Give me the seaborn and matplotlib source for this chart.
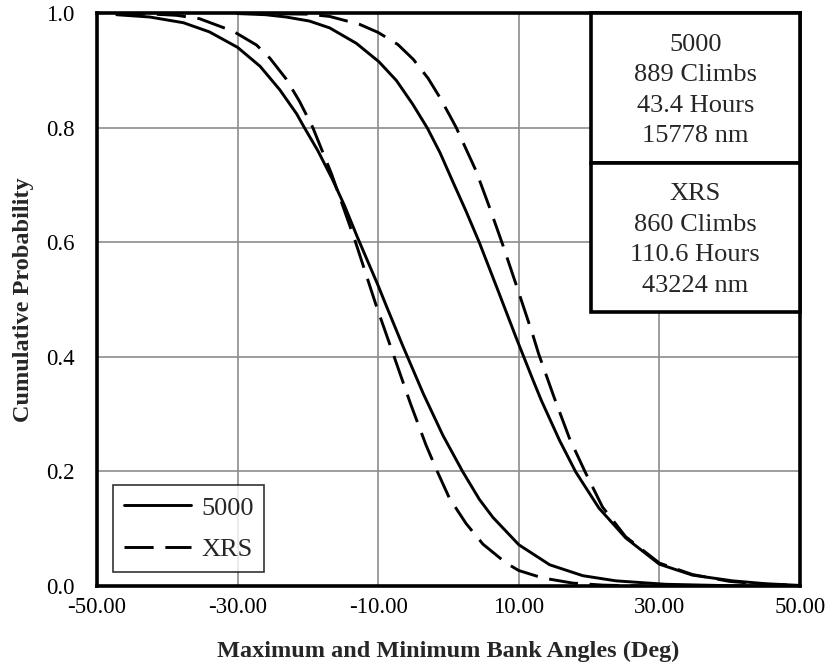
import numpy as np
import pandas as pd
import matplotlib
matplotlib.use("Agg")
import matplotlib.pyplot as plt
import seaborn as sns
from matplotlib.patches import Rectangle

# ---- data ----
s5000_min_x = [-47.2, -42.5, -37.7, -34.0, -30.0, -26.8, -24.0, -21.6, -20.6, -18.6, -16.6, -14.8, -13.0, -10.0, -8.85,
               -6.5, -3.6, -0.8, 2.0, 4.4, 6.3, 10.0, 14.4, 19.1, 23.8, 30.9, 40.0, 50.0]
s5000_min_p = [0.997, 0.993, 0.983, 0.967, 0.940, 0.907, 0.866, 0.824, 0.802, 0.760, 0.712, 0.664, 0.610, 0.524, 0.489,
               0.419, 0.336, 0.263, 0.200, 0.151, 0.120, 0.072, 0.037, 0.018, 0.009, 0.003, 0.0005, 0.0]

xrs_min_x = [-47.3, -42.0, -38.7, -35.4, -30.6, -27.3, -25.4, -23.1, -21.2, -19.3, -16.6, -13.3, -10.3, -7.7,
             -5.4, -3.2, -1.6, 0.14, 2.5, 4.9, 8.2, 10.0, 13.4, 17.7, 22.0, 28.0]
xrs_min_p = [0.9995, 0.998, 0.996, 0.990, 0.968, 0.944, 0.921, 0.885, 0.846, 0.800, 0.718, 0.603, 0.490, 0.399,
             0.318, 0.246, 0.200, 0.153, 0.109, 0.073, 0.040, 0.027, 0.014, 0.005, 0.0015, 0.0]

s5000_max_x = [-30.0, -26.0, -23.1, -19.8, -16.9, -13.1, -9.9, -7.4, -5.1, -3.0, -1.2, 0.6, 2.5, 4.4, 7.0, 9.6,
               12.0, 13.2, 15.8, 18.1, 21.4, 25.2, 30.0, 34.7, 40.4, 45.1, 50.0]
s5000_max_p = [0.999, 0.997, 0.993, 0.986, 0.974, 0.947, 0.915, 0.882, 0.841, 0.799, 0.756, 0.706, 0.654, 0.599, 0.517, 0.434,
               0.360, 0.324, 0.254, 0.199, 0.136, 0.084, 0.038, 0.019, 0.009, 0.004, 0.001]

xrs_max_x = [-30.0, -20.0, -16.9, -12.6, -10.0, -7.2, -5.0, -2.9, -1.3, 0.14, 1.1, 3.9, 5.8, 7.7, 10.0, 12.0,
             12.8, 15.0, 17.2, 19.4, 21.9, 25.2, 30.0, 34.7, 40.0, 45.0, 50.0]
xrs_max_p = [0.9995, 0.998, 0.994, 0.980, 0.966, 0.945, 0.919, 0.886, 0.854, 0.822, 0.800, 0.725, 0.662, 0.596, 0.512, 0.438,
             0.406, 0.330, 0.258, 0.200, 0.138, 0.086, 0.040, 0.020, 0.008, 0.003, 0.001]

series_names = ["5000", "XRS"]
x_ticks = [-50, -30, -10, 10, 30, 50]
x_tick_labels = ["-50.00", "-30.00", "-10.00", "10.00", "30.00", "50.00"]
y_ticks = [0.0, 0.2, 0.4, 0.6, 0.8, 1.0]
y_tick_labels = ["0.0", "0.2", "0.4", "0.6", "0.8", "1.0"]
box_texts = ["5000\n889 Climbs\n43.4 Hours\n15778 nm",
             "XRS\n860 Climbs\n110.6 Hours\n43224 nm"]

curves = [("5000", "min", s5000_min_x, s5000_min_p),
          ("XRS", "min", xrs_min_x, xrs_min_p),
          ("5000", "max", s5000_max_x, s5000_max_p),
          ("XRS", "max", xrs_max_x, xrs_max_p)]
rows = []
for name, kind, xs, ps in curves:
    for i, (xv, pv) in enumerate(zip(xs, ps)):
        rows.append({"series": name, "curve": name + kind, "x": xv, "p": pv, "order": i})
df = pd.DataFrame(rows)

sns.set_style("white")
plt.rcParams['font.family'] = ['Liberation Serif', 'DejaVu Serif']

fig = plt.figure(figsize=(8.31, 6.70), dpi=100)
ax = fig.add_axes([97/831, 1 - 586/670, 703/831, 573/670])

lw = 2.1
sns.lineplot(data=df, x="x", y="p", style="series", units="curve", estimator=None,
             sort=False, color="black", linewidth=lw,
             dashes={"5000": "", "XRS": (10, 4)}, style_order=series_names, ax=ax, legend=True)
for ln in ax.get_lines():
    ln.set_solid_joinstyle("round")
    ln.set_dash_joinstyle("round")
    ln.set_dash_capstyle("butt")

ax.set_xlim(-50, 50)
ax.set_ylim(0, 1)
ax.set_xticks(x_ticks)
ax.set_xticklabels(x_tick_labels)
ax.set_yticks(y_ticks)
ax.set_yticklabels(y_tick_labels)
ax.tick_params(axis="both", length=0, labelsize=16.5, colors="black")
ax.tick_params(axis="y", pad=16)
ax.tick_params(axis="x", pad=8)
ax.grid(True, color="#8c8c8c", linewidth=1.2)
for sp in ax.spines.values():
    sp.set_color("black")
    sp.set_linewidth(2.6)
    sp.set_zorder(5)

ax.set_xlabel("Maximum and Minimum Bank Angles (Deg)", fontsize=17.5, fontweight="bold", labelpad=16)
ax.set_ylabel("Cumulative Probability", fontsize=17.5, fontweight="bold", labelpad=9)

# text boxes
bx0 = 20.2
tops = [1.0, 0.738]
bots = [0.738, 0.478]
for t, b, txt in zip(tops, bots, box_texts):
    r = Rectangle((bx0, b), 50 - bx0, t - b, facecolor="white", edgecolor="black",
                  linewidth=2.6, zorder=6, clip_on=False)
    ax.add_patch(r)
    ax.text((bx0 + 50) / 2, (t + b) / 2 - 0.004, txt, ha="center", va="center", fontsize=19,
            linespacing=1.5, zorder=7)

handles, labels = ax.get_legend_handles_labels()
leg = ax.legend(handles, labels, loc="lower left", bbox_to_anchor=(0.0228, 0.0244),
                fontsize=19, frameon=True, fancybox=False, edgecolor="black",
                handlelength=2.55, handletextpad=0.4, borderpad=0.4, labelspacing=0.7,
                borderaxespad=0)
leg.get_frame().set_linewidth(1.2)
for h in leg.get_lines():
    h.set_linewidth(lw)
    h.set_color("black")

fig.savefig("out.png", dpi=100)
